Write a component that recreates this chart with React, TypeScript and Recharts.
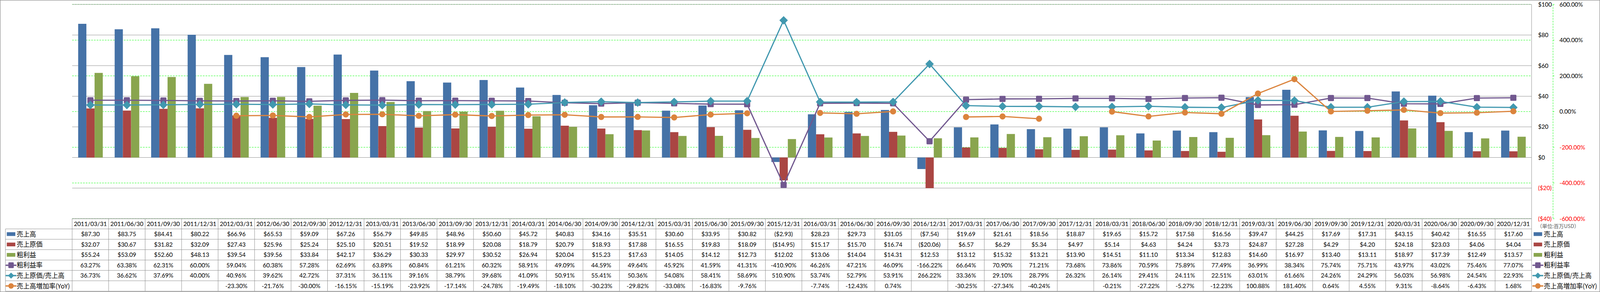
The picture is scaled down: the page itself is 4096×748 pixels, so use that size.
import React from 'react';
import { ComposedChart, Bar, Line, XAxis, YAxis, CartesianGrid } from 'recharts';

// ---------- data ----------
const dates = [
  '2011/03/31', '2011/06/30', '2011/09/30', '2011/12/31',
  '2012/03/31', '2012/06/30', '2012/09/30', '2012/12/31',
  '2013/03/31', '2013/06/30', '2013/09/30', '2013/12/31',
  '2014/03/31', '2014/06/30', '2014/09/30', '2014/12/31',
  '2015/03/31', '2015/06/30', '2015/09/30', '2015/12/31',
  '2016/03/31', '2016/06/30', '2016/09/30', '2016/12/31',
  '2017/03/31', '2017/06/30', '2017/09/30', '2017/12/31',
  '2018/03/31', '2018/06/30', '2018/09/30', '2018/12/31',
  '2019/03/31', '2019/06/30', '2019/09/30', '2019/12/31',
  '2020/03/31', '2020/06/30', '2020/09/30', '2020/12/31',
];

const sales = [
  87.30, 83.75, 84.41, 80.22, 66.96, 65.53, 59.09, 67.26, 56.79, 49.85,
  48.96, 50.60, 45.72, 40.83, 34.16, 35.51, 30.60, 33.95, 30.82, -2.93,
  28.23, 29.73, 31.05, -7.54, 19.69, 21.61, 18.56, 18.87, 19.65, 15.72,
  17.58, 16.56, 39.47, 44.25, 17.69, 17.31, 43.15, 40.42, 16.55, 17.60,
];

const costOfSales = [
  32.07, 30.67, 31.82, 32.09, 27.43, 25.96, 25.24, 25.10, 20.51, 19.52,
  18.99, 20.08, 18.79, 20.79, 18.93, 17.88, 16.55, 19.83, 18.09, -14.95,
  15.17, 15.70, 16.74, -20.06, 6.57, 6.29, 5.34, 4.97, 5.14, 4.63,
  4.24, 3.73, 24.87, 27.28, 4.29, 4.20, 24.18, 23.03, 4.06, 4.04,
];

const grossProfit = [
  55.24, 53.09, 52.60, 48.13, 39.54, 39.56, 33.84, 42.17, 36.29, 30.33,
  29.97, 30.52, 26.94, 20.04, 15.23, 17.63, 14.05, 14.12, 12.73, 12.02,
  13.06, 14.04, 14.31, 12.53, 13.12, 15.32, 13.21, 13.90, 14.51, 11.10,
  13.34, 12.83, 14.60, 16.97, 13.40, 13.11, 18.97, 17.39, 12.49, 13.57,
];

const grossMargin = [
  63.27, 63.38, 62.31, 60.00, 59.04, 60.38, 57.28, 62.69, 63.89, 60.84,
  61.21, 60.32, 58.91, 49.09, 44.59, 49.64, 45.92, 41.59, 41.31, -410.90,
  46.26, 47.21, 46.09, -166.22, 66.64, 70.90, 71.21, 73.68, 73.86, 70.59,
  75.89, 77.49, 36.99, 38.34, 75.74, 75.71, 43.97, 43.02, 75.46, 77.07,
];

const costRatio = [
  36.73, 36.62, 37.69, 40.00, 40.96, 39.62, 42.72, 37.31, 36.11, 39.16,
  38.79, 39.68, 41.09, 50.91, 55.41, 50.36, 54.08, 58.41, 58.69, 510.90,
  53.74, 52.79, 53.91, 266.22, 33.36, 29.10, 28.79, 26.32, 26.14, 29.41,
  24.11, 22.51, 63.01, 61.66, 24.26, 24.29, 56.03, 56.98, 24.54, 22.93,
];

const salesYoY: (number | null)[] = [
  null, null, null, null, -23.30, -21.76, -30.00, -16.15, -15.19, -23.92,
  -17.14, -24.78, -19.49, -18.10, -30.23, -29.82, -33.08, -16.83, -9.76, null,
  -7.74, -12.43, 0.74, null, -30.25, -27.34, -40.24, null, -0.21, -27.22,
  -5.27, -12.23, 100.88, 181.40, 0.64, 4.55, 9.31, -8.64, -6.43, 1.68,
];

const usdTicks = [-40, -20, 0, 20, 40, 60, 80, 100];
const pctTicks = [-600, -400, -200, 0, 200, 400, 600];
const unitLabel = '（単位:百万USD）';

// ---------- styling / layout (reference px, scaled by S) ----------
const S = 4096 / 4701;
const W = 4096;
const H = 748;
const PLOT_L = 212;
const PLOT_R = 4500;
const PLOT_T = 13;
const PLOT_B = 643;
const CAT_W = (PLOT_R - PLOT_L) / dates.length;
const TABLE_HEAD_B = 673;
const ROW_H = 30.5;

const C_BLUE = '#4572A7';
const C_RED = '#AA4643';
const C_GREEN = '#89A54E';
const C_PURPLE = '#71588F';
const C_TEAL = '#4198AF';
const C_ORANGE = '#DB843D';
const C_GRID = '#8a8a8a';
const C_DASH = '#00ff00';

const LAT = "Lato, 'Noto Sans', sans-serif";
const CJK = "'Noto Sans CJK JP', 'Noto Sans', sans-serif";

const money = (v: number | null) =>
  v == null ? '' : v < 0 ? `($${Math.abs(v).toFixed(2)})` : `$${v.toFixed(2)}`;
const pct = (v: number | null) => (v == null ? '' : `${v.toFixed(2)}%`);

type Kind = 'bar' | 'square' | 'diamond' | 'circle';
const rows: { name: string; vals: (number | null)[]; fmt: (v: number | null) => string; kind: Kind; color: string }[] = [
  { name: '売上高', vals: sales, fmt: money, kind: 'bar', color: C_BLUE },
  { name: '売上原価', vals: costOfSales, fmt: money, kind: 'bar', color: C_RED },
  { name: '粗利益', vals: grossProfit, fmt: money, kind: 'bar', color: C_GREEN },
  { name: '粗利益率', vals: grossMargin, fmt: pct, kind: 'square', color: C_PURPLE },
  { name: '売上原価/売上高', vals: costRatio, fmt: pct, kind: 'diamond', color: C_TEAL },
  { name: '売上高増加率(YoY)', vals: salesYoY, fmt: pct, kind: 'circle', color: C_ORANGE },
];

const chartData = dates.map((d, i) => ({
  date: d,
  sales: sales[i],
  cost: costOfSales[i],
  gross: grossProfit[i],
  margin: grossMargin[i],
  ratio: costRatio[i],
  yoy: salesYoY[i],
}));

// ---------- marks ----------
const SquareDot = (p: any) => {
  const { cx, cy, index } = p;
  if (cx == null || cy == null) return <g key={`sq-${index}`} />;
  const s = 18 * S;
  return <rect key={`sq-${index}`} x={cx - s / 2} y={cy - s / 2} width={s} height={s} rx={2.5 * S} fill={C_PURPLE} />;
};
const DiamondDot = (p: any) => {
  const { cx, cy, index } = p;
  if (cx == null || cy == null) return <g key={`dm-${index}`} />;
  const r = 12.5 * S;
  return <polygon key={`dm-${index}`} points={`${cx},${cy - r} ${cx + r},${cy} ${cx},${cy + r} ${cx - r},${cy}`} fill={C_TEAL} />;
};
const CircleDot = (p: any) => {
  const { cx, cy, index } = p;
  if (cx == null || cy == null) return <g key={`ci-${index}`} />;
  return <circle key={`ci-${index}`} cx={cx} cy={cy} r={9 * S} fill={C_ORANGE} />;
};

const UsdTick = (p: any) => {
  const { x, y, payload } = p;
  const v = payload.value as number;
  return (
    <text x={x} y={y} dy="0.36em" textAnchor="start" fontFamily={LAT} fontSize={17.5 * S} fill={v < 0 ? '#ff0000' : '#000000'}>
      {v < 0 ? `($${Math.abs(v)})` : `$${v}`}
    </text>
  );
};
const PctTick = (p: any) => {
  const { x, y, payload } = p;
  const v = payload.value as number;
  return (
    <text x={x} y={y} dy="0.36em" textAnchor="start" fontFamily={LAT} fontSize={17.5 * S} fill={v < 0 ? '#ff0000' : '#000000'}>
      {`${v.toFixed(2)}%`}
    </text>
  );
};

const LegendKey = ({ kind, color, x, y }: { kind: Kind; color: string; x: number; y: number }) => {
  if (kind === 'bar') {
    return <rect x={(x + 2) * S} y={(y - 5.5) * S} width={25 * S} height={11 * S} fill={color} />;
  }
  const cx = x + 14.5;
  let sym: React.ReactNode = null;
  if (kind === 'square') sym = <rect x={(cx - 8) * S} y={(y - 8.5) * S} width={16 * S} height={17 * S} rx={2 * S} fill={color} />;
  if (kind === 'diamond')
    sym = <polygon points={`${cx * S},${(y - 9) * S} ${(cx + 9) * S},${y * S} ${cx * S},${(y + 9) * S} ${(cx - 9) * S},${y * S}`} fill={color} />;
  if (kind === 'circle') sym = <circle cx={cx * S} cy={y * S} r={8 * S} fill={color} />;
  return (
    <g>
      <line x1={x * S} x2={(x + 29) * S} y1={y * S} y2={y * S} stroke={color} strokeWidth={4 * S} strokeLinecap="round" />
      {sym}
    </g>
  );
};

const DataTable = () => {
  const rowTop = (r: number) => TABLE_HEAD_B + r * ROW_H;
  const rowMid = (r: number) => TABLE_HEAD_B + (r + 0.5) * ROW_H;
  const tableB = TABLE_HEAD_B + rows.length * ROW_H;
  const lw = 1.1 * S;
  return (
    <svg width={W} height={H} style={{ position: 'absolute', left: 0, top: 0, pointerEvents: 'none' }}>
      <rect x={0.5} y={0.5} width={W - 1} height={H - 1} fill="none" stroke="#8a8a8a" strokeWidth={1.3} />
      <line x1={PLOT_L * S} x2={PLOT_R * S} y1={PLOT_B * S} y2={PLOT_B * S} stroke={C_GRID} strokeWidth={lw} />
      {Array.from({ length: rows.length + 1 }, (_, r) => (
        <line key={`h${r}`} x1={16 * S} x2={PLOT_R * S} y1={rowTop(r) * S} y2={rowTop(r) * S} stroke={C_GRID} strokeWidth={lw} />
      ))}
      <line x1={16 * S} x2={16 * S} y1={TABLE_HEAD_B * S} y2={tableB * S} stroke={C_GRID} strokeWidth={lw} />
      {Array.from({ length: dates.length + 1 }, (_, c) => (
        <line
          key={`v${c}`}
          x1={(PLOT_L + c * CAT_W) * S}
          x2={(PLOT_L + c * CAT_W) * S}
          y1={PLOT_B * S}
          y2={tableB * S}
          stroke={C_GRID}
          strokeWidth={lw}
        />
      ))}
      {dates.map((d, c) => (
        <text
          key={`d${c}`}
          x={(PLOT_L + (c + 0.5) * CAT_W) * S}
          y={((PLOT_B + TABLE_HEAD_B) / 2) * S}
          dy="0.36em"
          textAnchor="middle"
          fontFamily={LAT}
          fontSize={17.5 * S}
          fill="#000"
        >
          {d}
        </text>
      ))}
      {rows.map((row, r) =>
        row.vals.map((v, c) => (
          <text
            key={`c${r}-${c}`}
            x={(PLOT_L + (c + 0.5) * CAT_W) * S}
            y={rowMid(r) * S}
            dy="0.36em"
            textAnchor="middle"
            fontFamily={LAT}
            fontSize={17.5 * S}
            fill="#000"
          >
            {row.fmt(v)}
          </text>
        ))
      )}
      {rows.map((row, r) => (
        <g key={`ll${r}`}>
          <LegendKey kind={row.kind} color={row.color} x={18} y={rowMid(r)} />
          <text x={49 * S} y={rowMid(r) * S} dy="0.36em" fontFamily={CJK} fontSize={19 * S} fill="#000">
            {row.name}
          </text>
        </g>
      ))}
      <text x={4516 * S} y={665 * S} dy="0.36em" fontFamily={CJK} fontSize={15 * S} fill="#595959">
        {unitLabel}
      </text>
      {rows.map((row, r) => (
        <g key={`rl${r}`}>
          <LegendKey kind={row.kind} color={row.color} x={4504} y={rowMid(r)} />
          <text x={4536 * S} y={rowMid(r) * S} dy="0.36em" fontFamily={CJK} fontSize={19 * S} fill="#000">
            {row.name}
          </text>
        </g>
      ))}
    </svg>
  );
};

export default function App() {
  return (
    <div style={{ position: 'absolute', left: 0, top: 0, width: W, height: H, background: '#fff' }}>
      <ComposedChart
        width={W}
        height={H}
        data={chartData}
        margin={{ top: PLOT_T * S, left: PLOT_L * S, right: 0, bottom: H - PLOT_B * S }}
        barGap={0}
        barCategoryGap="16.5%"
      >
        <XAxis dataKey="date" hide xAxisId={0} />
        <YAxis
          yAxisId="b_pct"
          orientation="right"
          domain={[-600, 600]}
          ticks={pctTicks}
          interval={0}
          width={(4701 - 4563) * S}
          axisLine={{ stroke: C_DASH, strokeDasharray: `${5 * S} ${3 * S}`, strokeWidth: 1.1 * S }}
          tickLine={{ stroke: C_DASH, strokeWidth: 1.1 * S }}
          tickSize={4 * S}
          tickMargin={15 * S}
          tick={<PctTick />}
          allowDataOverflow
        />
        <YAxis
          yAxisId="a_usd"
          orientation="right"
          domain={[-40, 100]}
          ticks={usdTicks}
          interval={0}
          width={63 * S}
          axisLine={{ stroke: C_GRID, strokeWidth: 1.1 * S }}
          tickLine={false}
          tickSize={0}
          tickMargin={19 * S}
          tick={<UsdTick />}
          allowDataOverflow
        />
        <CartesianGrid yAxisId="b_pct" vertical={false} stroke={C_DASH} strokeDasharray={`${5 * S} ${3 * S}`} strokeWidth={1.1 * S} />
        <CartesianGrid yAxisId="a_usd" vertical={false} stroke={C_GRID} strokeWidth={1.1 * S} />
        <Bar yAxisId="a_usd" dataKey="sales" fill={C_BLUE} isAnimationActive={false} />
        <Bar yAxisId="a_usd" dataKey="cost" fill={C_RED} isAnimationActive={false} />
        <Bar yAxisId="a_usd" dataKey="gross" fill={C_GREEN} isAnimationActive={false} />
        <Line
          yAxisId="b_pct"
          dataKey="margin"
          stroke={C_PURPLE}
          strokeWidth={3.5 * S}
          dot={SquareDot}
          activeDot={false}
          isAnimationActive={false}
        />
        <Line
          yAxisId="b_pct"
          dataKey="ratio"
          stroke={C_TEAL}
          strokeWidth={3.5 * S}
          dot={DiamondDot}
          activeDot={false}
          isAnimationActive={false}
        />
        <Line
          yAxisId="b_pct"
          dataKey="yoy"
          stroke={C_ORANGE}
          strokeWidth={3.5 * S}
          dot={CircleDot}
          activeDot={false}
          connectNulls={false}
          isAnimationActive={false}
        />
      </ComposedChart>
      <DataTable />
    </div>
  );
}
